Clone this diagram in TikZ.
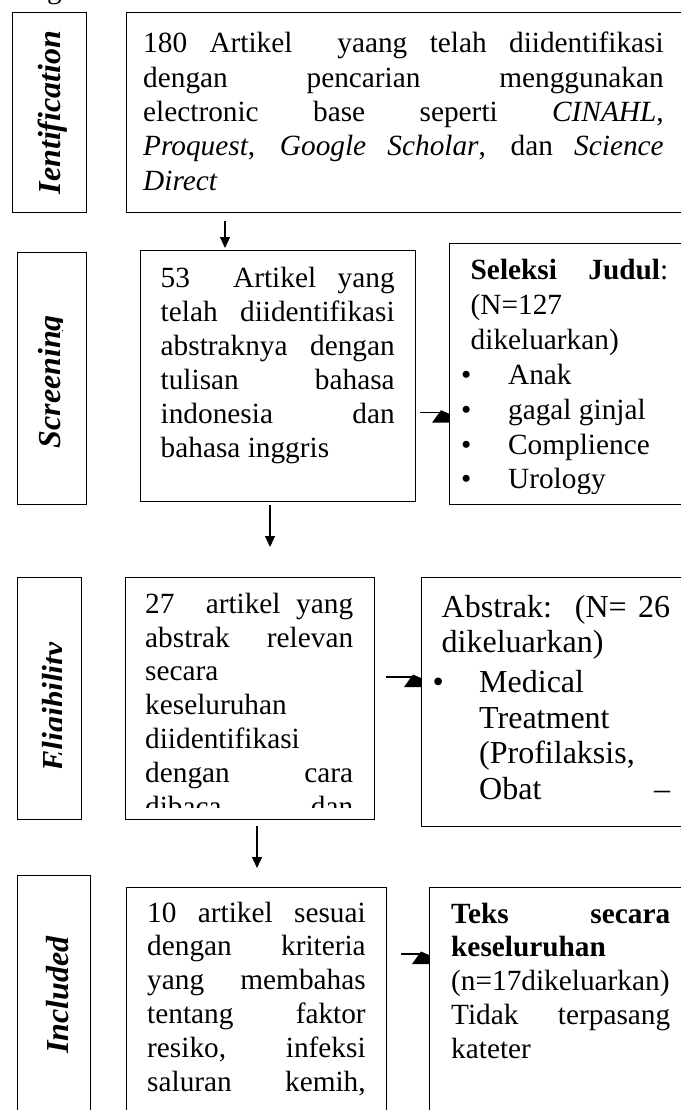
\documentclass[tikz,border=0pt]{standalone}
\usepackage{fontspec}
\setmainfont{Liberation Serif}
\usetikzlibrary{arrows.meta,calc}

\newcommand\jline[1]{\makebox[\linewidth][s]{#1}\par}
\newcommand\lline[1]{\mbox{#1}\par}
\newcommand\bitem[3]{\mbox{\makebox[0pt][l]{\hspace*{#1}\textbullet}\hspace*{#2}#3}\par}
\newcommand\sidearr[3]{%
  \draw[conn] (#1,#2) -- ($(#3.west |- 0,#2)+(-6,0)$);
  \fill ($(#3.west |- 0,#2)+(-17,10)$) -- ($(#3.west |- 0,#2)+(-8,-2.5)$) --
        ($(#3.west |- 0,#2)+(0,1)$) -- ($(#3.west |- 0,#2)+(0,10)$) -- cycle;}

\begin{document}
\begin{tikzpicture}[x=1pt,y=-1pt,
  box/.style={draw=black, line width=1.3pt, inner sep=0pt, anchor=north west},
  conn/.style={line width=1.2pt},
  arr/.style={conn,-{Triangle[width=10pt,length=11pt]}},
  txt/.style={inner sep=0pt, anchor=base west},
  lbl/.style={inner sep=0pt, anchor=base, rotate=90,
              font=\fontsize{32}{38}\selectfont\bfseries\itshape}]
\useasboundingbox (0,0) rectangle (680,1110);
\fill[white] (0,0) rectangle (680,1110);

% fragment of a caption cut off above
\node[inner sep=0pt, anchor=base] (gfrag) at (54.5,-1) {\fontsize{29.3}{34}\selectfont g};

% ---------- boxes ----------
\node[box, minimum width=74pt,  minimum height=200pt] (lbI)    at (12,12)  {};
\node[box, minimum width=564pt, minimum height=200pt] (top)    at (126,12) {};
\node[box, minimum width=69pt,  minimum height=252pt] (lbS)    at (17,252) {};
\node[box, minimum width=275pt, minimum height=251pt] (sMain)  at (140,250) {};
\node[box, minimum width=241pt, minimum height=261pt] (sRight) at (449,243) {};
\node[box, minimum width=64pt,  minimum height=242pt] (lbE)    at (17,577) {};
\node[box, minimum width=249pt, minimum height=242pt] (eMain)  at (125,577) {};
\node[box, minimum width=269pt, minimum height=249pt] (eRight) at (421,577) {};
\node[box, minimum width=73pt,  minimum height=245pt] (lbN)    at (17,875) {};
\node[box, minimum width=260pt, minimum height=233pt] (nMain)  at (126,887) {};
\node[box, minimum width=261pt, minimum height=233pt] (nRight) at (429,887) {};

% ---------- stage labels ----------
\node[lbl] (tI) at (60.5,112.5) {Ientification};
\begin{scope}
  \clip (17,252) rectangle (62,504);
  \node[lbl] (tScr) at (60,381.7) {Screening};
\end{scope}
\begin{scope}
  \clip (17,577) rectangle (61,819);
  \node[lbl] (tEl) at (64.5,707) {Eligibility};
\end{scope}
\node[lbl] (tIn) at (68.5,995) {Included};

% ---------- texts ----------
\node[txt] (tTop) at (143,53) {\parbox[t]{520.5pt}{\fontsize{29.3}{34.3}\selectfont
\jline{180 Artikel\ \ yaang telah diidentifikasi}
\jline{dengan pencarian menggunakan}
\jline{electronic base seperti \textit{CINAHL},}
\jline{\textit{Proquest}, \textit{Google Scholar}, dan \textit{Science}}
\lline{\textit{Direct}}}};

\node[txt] (tS) at (160.5,287.5) {\parbox[t]{234pt}{\fontsize{29.3}{33.9}\selectfont
\jline{53\ \ Artikel yang}
\jline{telah diidentifikasi}
\jline{abstraknya dengan}
\jline{tulisan bahasa}
\jline{indonesia dan}
\lline{bahasa inggris}}};

\begin{scope}
  \clip (449,243) rectangle (690,493.3);
  \node[txt] (tSR) at (470.5,279.5) {\parbox[t]{197.5pt}{\fontsize{29.3}{34.9}\selectfont
  \jline{\textbf{Seleksi} \textbf{Judul}:}
  \lline{(N=127}
  \lline{dikeluarkan)}
  \bitem{-9.7pt}{37.5pt}{Anak}
  \bitem{-9.7pt}{37.5pt}{gagal ginjal}
  \bitem{-9.7pt}{37.5pt}{Complience}
  \bitem{-9.7pt}{37.5pt}{Urology}}};
\end{scope}

\begin{scope}
  \clip (125,577) rectangle (374,807);
  \node[txt] (tE) at (145,613.3) {\parbox[t]{208pt}{\fontsize{29.3}{33.8}\selectfont
  \jline{27\ \ artikel yang}
  \jline{abstrak relevan}
  \lline{secara}
  \lline{keseluruhan}
  \lline{diidentifikasi}
  \jline{dengan cara}
  \jline{dibaca dan}}};
\end{scope}

\node[txt] (tER) at (441.5,617) {\parbox[t]{228.5pt}{\fontsize{32}{35.5}\selectfont
\jline{Abstrak:\ \ (N= 26}
\lline{dikeluarkan)}\vspace{4.5pt}
\bitem{-9.1pt}{37.5pt}{Medical}
\lline{\hspace*{37.5pt}Treatment}
\lline{\hspace*{37.5pt}(Profilaksis,}
\makebox[\linewidth][s]{\hspace*{37.5pt}Obat\hfill –}\par}};

\node[txt] (tN) at (147,922) {\parbox[t]{218.5pt}{\fontsize{29.3}{33.8}\selectfont
\jline{10 artikel sesuai}
\jline{dengan kriteria}
\jline{yang membahas}
\jline{tentang faktor}
\jline{resiko, infeksi}
\jline{saluran kemih,}}};

\node[txt] (tNR) at (451,923) {\parbox[t]{219pt}{\fontsize{29.3}{33.8}\selectfont
\jline{\textbf{Teks} \textbf{secara}}
\lline{\textbf{keseluruhan}}
\lline{(n=17dikeluarkan)}
\jline{Tidak terpasang}
\lline{kateter}}};

% ---------- connectors ----------
\draw[arr] ($(top.south -| 225,0)+(0,8)$) -- ($(sMain.north -| 225,0)+(0,-2)$);
\draw[arr] ($(sMain.south -| 270,0)+(0,3)$) -- ($(eMain.north -| 270,0)+(0,-30)$);
\draw[arr] ($(eMain.south -| 257,0)+(0,6)$) -- ($(nMain.north -| 257,0)+(0,-19)$);

\sidearr{420}{412.7}{sRight}
\sidearr{386}{677}{eRight}
\sidearr{401}{954}{nRight}
\end{tikzpicture}
\end{document}
